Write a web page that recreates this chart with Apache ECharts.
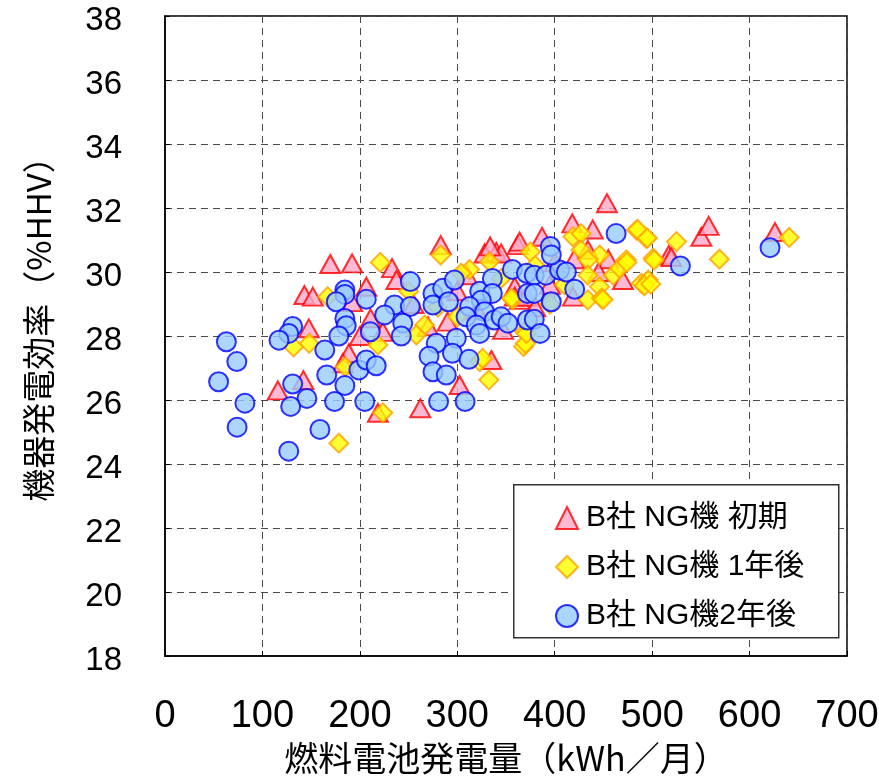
<!DOCTYPE html>
<html>
<head>
<meta charset="utf-8">
<script src="https://cdn.jsdelivr.net/npm/echarts@6/dist/echarts.min.js"></script>
<style>html,body{margin:0;padding:0;background:#fff}#c{width:879px;height:777px}</style>
</head>
<body>
<div id="c"></div>
<script>
const seriesNames = ['B社 NG機 初期', 'B社 NG機 1年後', 'B社 NG機2年後'];
const xTicks = [0, 100, 200, 300, 400, 500, 600, 700];
const yTicks = [18, 20, 22, 24, 26, 28, 30, 32, 34, 36, 38];
const xTitle = '燃料電池発電量（kWh／月）';
const yTitle = '機器発電効率（%HHV）';

// [燃料電池発電量 kWh/月, 機器発電効率 %HHV]
const initialPts = [
  [169.6,30.25],[192,30.27],[143,29.28],[151.7,29.23],[206.6,29.54],[147.6,28.24],[142,26.62],[115.8,26.3],
  [188.7,27.46],[182.5,27.15],[211,28.55],[218.5,25.6],[192,29.06],[233,30.12],[237.5,29.75],[283,30.84],
  [328,30.58],[340,30.63],[345,30.58],[362,30.84],[290,28.45],[302.4,26.47],[262,25.74],[335,27.25],
  [223.6,28.13],[359,29.54],[364,29.13],[359,29.23],[347,28.19],[333.7,30.8],[453.6,32.15],[418,31.52],
  [439,31.33],[387,31.1],[550.5,31.1],[558,31.44],[517,30.53],[470,29.75],[434,30.69],[418.7,29.23],
  [364,30.95],[626,31.25],[519.7,30.47],[455,30.4],[371,29.23],[310,29.9],[300,29.4],[380,28.9],
  [395,29.6],[420,30.4],[445,30.0],[400,30.3],[320,28.8],[255,29.0],[270,28.3],[200,28.0]
];
const oneYearPts = [
  [221,30.3],[167,29.23],[132,27.66],[148,27.77],[178.4,24.65],[185,27.04],[223.5,25.6],[283,30.53],
  [333,30.32],[312.6,30.08],[266.4,28.34],[258,28.03],[323,27.2],[332.4,26.63],[357,29.13],[369,28.13],
  [368,27.67],[218.5,27.72],[304,29.96],[370,27.77],[326,27.3],[371,28.08],[375,30.63],[418.7,31.1],
  [427,31.2],[483.8,31.31],[494,31.05],[525,30.95],[427,30.69],[446,30.53],[434,30.38],[473.5,30.38],
  [501,30.43],[434,29.9],[460,29.9],[446,29.54],[489,29.65],[496,29.75],[434,29.13],[448,29.18],
  [466.6,30.12],[640.6,31.08],[569,30.4],[492,29.57],[498.5,29.62],[502,30.37],[474,30.3],[449.6,29.14],
  [485,31.33],[495,31.06],[355.6,29.18],[300,28.6],[280,28.9],[250,29.4],[395,29.0],[410,29.6],
  [380,30.2],[345,29.8]
];
const twoYearPts = [
  [63,27.82],[73.7,27.2],[55,26.57],[82,25.9],[74,25.15],[127,24.4],[131,28.3],[127,28.08],
  [117,27.87],[131,26.5],[145.6,26.05],[129,25.8],[159,25.08],[164,27.56],[166,26.78],[184.6,26.45],
  [174,25.95],[205,25.95],[184.6,29.44],[184.6,29.3],[175.8,29.07],[206.6,29.15],[184.6,28.55],[186,28.32],
  [178.4,28.0],[210.7,28.13],[199,26.94],[206.6,27.25],[251.8,29.7],[235.7,28.97],[225.4,28.66],[251.8,28.92],
  [244,28.4],[242.5,28.0],[216.8,27.07],[275,29.33],[275,28.97],[285,29.49],[297,29.75],[291,29.07],
  [278.4,27.77],[271,27.37],[275,26.88],[288.7,26.78],[299,27.93],[295,27.46],[312,27.27],[280.8,25.95],
  [308,25.95],[323,29.4],[336,29.8],[336,29.33],[324.6,29.12],[312.6,28.92],[328,28.76],[309,28.6],
  [319.5,28.34],[323,28.08],[338,28.5],[345,28.6],[352,28.4],[356.5,30.08],[371,29.96],[372,29.33],
  [372,28.5],[379,29.9],[391,29.9],[379,29.33],[396.5,29.07],[379,28.52],[385,28.08],[405,30.06],
  [463,31.2],[529,30.19],[395.5,30.8],[396.5,30.53],[412,30.0],[420.5,29.46],[621,30.76]
];

const chart = echarts.init(document.getElementById('c'), null, {renderer: 'canvas'});
const gridLine = {show: true, lineStyle: {color: '#4a4a4a', width: 1, type: [7, 5]}};
chart.setOption({
  animation: false,
  backgroundColor: '#fff',
  grid: {left: 165, right: 32, top: 16, bottom: 121, outerBoundsMode: 'none', containLabel: false,
         show: true, borderColor: '#000', borderWidth: 1.5, backgroundColor: 'transparent'},
  xAxis: {
    type: 'value', min: xTicks[0], max: xTicks[xTicks.length - 1], interval: 100,
    name: xTitle, nameLocation: 'middle', nameGap: 78,
    nameTextStyle: {fontFamily: 'Noto Sans CJK JP', fontSize: 34, color: '#000'},
    axisLine: {show: true, lineStyle: {color: '#000', width: 1.5}},
    axisTick: {show: true, inside: true, length: 5, lineStyle: {color: '#000'}},
    axisLabel: {margin: 42, fontFamily: '"Liberation Sans Narrow", "Liberation Sans"', fontSize: 38, color: '#000'},
    splitLine: gridLine
  },
  yAxis: {
    type: 'value', min: yTicks[0], max: yTicks[yTicks.length - 1], interval: 2,
    name: yTitle, nameLocation: 'middle', nameGap: 110, nameRotate: 90,
    nameTextStyle: {fontFamily: 'Noto Sans CJK JP', fontSize: 33, color: '#000', padding: [0, 0, 0, 30]},
    axisLine: {show: true, lineStyle: {color: '#000', width: 1.5}},
    axisTick: {show: true, inside: true, length: 5, lineStyle: {color: '#000'}},
    axisLabel: {margin: 43, formatter: '{v|{value}}',
      rich: {v: {fontFamily: 'Liberation Sans', fontSize: 33, color: '#000', padding: [10, 0, 0, 0]}}},
    splitLine: gridLine
  },
  graphic: [{
    type: 'rect', left: 513, top: 484, z: 10,
    shape: {width: 325, height: 153},
    style: {fill: '#fff', stroke: '#333', lineWidth: 1.5}
  }],
  legend: {
    orient: 'vertical', left: 550, top: 498, z: 11,
    itemWidth: 22, itemHeight: 22, itemGap: 19,
    data: seriesNames,
    textStyle: {fontFamily: '"Liberation Sans", "Noto Sans CJK JP"', fontSize: 30, color: '#000', lineHeight: 30, padding: [0, 0, 0, 3]}
  },
  series: [
    {name: seriesNames[0], type: 'scatter', symbol: 'triangle', symbolSize: [20, 18], data: initialPts, z: 2,
     itemStyle: {color: '#ffa8c8', borderColor: '#ff0000', borderWidth: 2}},
    {name: seriesNames[1], type: 'scatter', symbol: 'diamond', symbolSize: 19, data: oneYearPts, z: 3,
     itemStyle: {color: '#ffff00', borderColor: '#ffa000', borderWidth: 2}},
    {name: seriesNames[2], type: 'scatter', symbol: 'circle', symbolSize: 19, data: twoYearPts, z: 4,
     itemStyle: {color: '#99ccff', borderColor: '#0000ff', borderWidth: 2}}
  ]
});
</script>
</body>
</html>
